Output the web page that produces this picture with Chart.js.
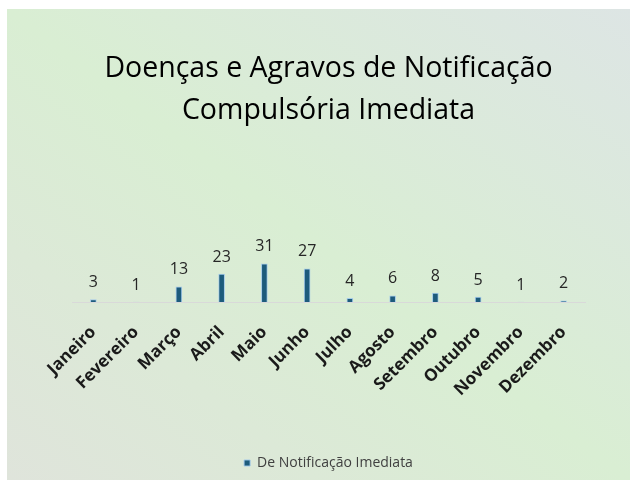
<!DOCTYPE html>
<html>
<head>
<meta charset="utf-8">
<script src="https://cdn.jsdelivr.net/npm/chart.js@4/dist/chart.umd.min.js"></script>
<style>
  html, body { margin: 0; padding: 0; background: #ffffff; }
  #wrap {
    position: absolute; left: 7px; top: 9px; width: 623px; height: 471px;
    background: linear-gradient(to bottom left, #dde5e4 0%, #d9eed3 50%, #dfe4db 100%);
  }
  canvas { display: block; }
</style>
</head>
<body>
<div id="wrap"><canvas id="c" width="623" height="471"></canvas></div>
<script>
const categories = ["Janeiro", "Fevereiro", "Março", "Abril", "Maio", "Junho",
                    "Julho", "Agosto", "Setembro", "Outubro", "Novembro", "Dezembro"];
const seriesName = "De Notificação Imediata";
const values = [3, 1, 13, 23, 31, 27, 4, 6, 8, 5, 1, 2];
const titleLines = ["Doenças e Agravos de Notificação", "Compulsória Imediata"];

const FONT = "'Open Sans', sans-serif";

const dataLabels = {
  id: 'dataLabels',
  afterDatasetsDraw(chart) {
    const ctx = chart.ctx;
    const meta = chart.getDatasetMeta(0);
    ctx.save();
    ctx.font = "16px " + FONT;
    ctx.fillStyle = "#262626";
    ctx.textAlign = "center";
    ctx.textBaseline = "bottom";
    meta.data.forEach((bar, i) => {
      ctx.fillText(String(chart.data.datasets[0].data[i]), bar.x, bar.y - 9);
    });
    ctx.restore();
  }
};

new Chart(document.getElementById('c'), {
  type: 'bar',
  data: {
    labels: categories,
    datasets: [{
      label: seriesName,
      data: values,
      backgroundColor: '#1d5b7c',
      borderColor: 'rgba(160,200,235,0.9)',
      borderWidth: 1,
      borderSkipped: false,
      barThickness: 6
    }]
  },
  options: {
    responsive: false,
    animation: false,
    devicePixelRatio: 1,
    layout: { padding: { left: 65, right: 45, top: 0, bottom: 0 } },
    plugins: {
      title: {
        display: true,
        text: titleLines,
        color: '#000000',
        font: { family: FONT, size: 28.5, weight: 'normal', lineHeight: 1.5 },
        padding: { top: 38, bottom: 43 }
      },
      legend: {
        display: true,
        position: 'bottom',
        labels: {
          boxWidth: 6, boxHeight: 6, padding: 5,
          color: '#404040',
          font: { family: FONT, size: 14 }
        }
      },
      tooltip: { enabled: false }
    },
    scales: {
      x: {
        grid: { display: false, drawTicks: false },
        border: { display: true, color: '#d9d9d9', width: 1 },
        ticks: {
          minRotation: 45, maxRotation: 45, padding: 20,
          color: '#1a1a1a',
          font: { family: FONT, size: 17, weight: 'bold' }
        },
        afterFit(scale) { scale.height += 31; }
      },
      y: {
        display: false,
        min: 1,
        max: 100
      }
    }
  },
  plugins: [dataLabels]
});
</script>
</body>
</html>
